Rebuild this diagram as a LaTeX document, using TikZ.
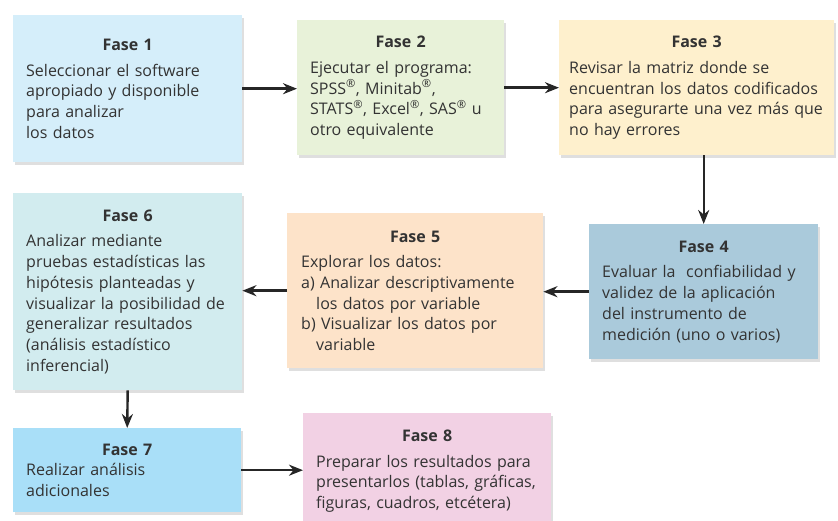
\documentclass[tikz,border=0pt]{standalone}
\usepackage{fontspec}
\setmainfont{Open Sans}
\usepackage{tikz}
\usetikzlibrary{arrows.meta, shadows, positioning}

\definecolor{faseuno}{HTML}{D5EEFA}
\definecolor{fasedos}{HTML}{E8F2D9}
\definecolor{fasetres}{HTML}{FEF0CD}
\definecolor{fasecuatro}{HTML}{AACADB}
\definecolor{fasecinco}{HTML}{FDE3C9}
\definecolor{faseseis}{HTML}{D2ECEF}
\definecolor{fasesiete}{HTML}{A9DFF8}
\definecolor{faseocho}{HTML}{F2D1E4}
\definecolor{texto}{HTML}{333333}

\begin{document}
\begin{tikzpicture}[x=1pt, y=-1pt,
  fase/.style={anchor=north west, inner xsep=13pt, inner ysep=0pt, align=left,
    text=texto, font=\fontsize{16}{20.7}\selectfont,
    drop shadow={shadow xshift=2pt, shadow yshift=-3pt, opacity=.25}},
  flecha/.style={-{Stealth[length=14pt, width=11pt]}, line width=2.4pt, black!85}]
  \useasboundingbox (0,0) rectangle (838,521);
  \clip (0,0) rectangle (838,521);
  % first row
  \node[fase, fill=faseuno, text width=203pt, minimum height=147pt] (f1) at (13,15)
    {{\centering\bfseries Fase 1\par}\vspace{5pt}
     Seleccionar el software\\apropiado y disponible\\para analizar\\los datos};
  \node[fase, fill=fasedos, text width=181pt, minimum height=135pt] (f2) at (297,20)
    {{\centering\bfseries Fase 2\par}\vspace{5pt}
     Ejecutar el programa:\\SPSS\textsuperscript{®}, Minitab\textsuperscript{®},\\
     STATS\textsuperscript{®}, Excel\textsuperscript{®}, SAS\textsuperscript{®} u\\otro equivalente};
  \node[fase, fill=fasetres, inner xsep=10pt, text width=255pt, minimum height=135pt] (f3) at (559,20)
    {{\centering\bfseries Fase 3\par}\vspace{5pt}
     Revisar la matriz donde se\\encuentran los datos codificados\\
     para asegurarte una vez más que\\no hay errores};
  % second row
  \node[fase, fill=fasecuatro, text width=203pt, minimum height=135pt] (f4) at (589,224)
    {{\centering\bfseries Fase 4\par}\vspace{5pt}
     Evaluar la\ \ confiabilidad y\\validez de la aplicación\\del instrumento de\\
     medición (uno o varios)};
  \node[fase, fill=fasecinco, inner xsep=14pt, text width=228pt, minimum height=155pt] (f5) at (287,213)
    {{\centering\bfseries Fase 5\par}\vspace{5pt}
     Explorar los datos:\\a) Analizar descriptivamente\\\hspace*{15pt}los datos por variable\\
     b) Visualizar los datos por\\\hspace*{15pt}variable};
  \node[fase, fill=faseseis, text width=203pt, minimum height=197pt] (f6) at (13,193)
    {{\centering\bfseries Fase 6\par}\vspace{5pt}
     Analizar mediante\\pruebas estadísticas las\\hipótesis planteadas y\\
     visualizar la posibilidad de\\generalizar resultados\\(análisis estadístico\\inferencial)};
  % third row
  \node[fase, fill=fasesiete, text width=202pt, minimum height=84pt] (f7) at (13,428)
    {{\centering\bfseries Fase 7\par}
     Realizar análisis\\adicionales};
  \node[fase, fill=faseocho, text width=222pt, minimum height=116pt] (f8) at (303,413)
    {{\centering\bfseries Fase 8\par}\vspace{5pt}
     Preparar los resultados para\\presentarlos (tablas, gráficas,\\figuras, cuadros, etcétera)};
  % arrows
  \draw[flecha] (f1.east) -- (f1.east -| f2.west);
  \draw[flecha] (f2.east) -- (f2.east -| f3.west);
  \draw[flecha] (f4.north |- f3.south) -- (f4.north);
  \draw[flecha] (f4.west) -- (f4.west -| f5.east);
  \draw[flecha] (f5.west) -- (f5.west -| f6.east);
  \draw[flecha] (f6.south) -- (f7.north);
  \draw[flecha] (f7.east) -- (f7.east -| f8.west);
\end{tikzpicture}
\end{document}
